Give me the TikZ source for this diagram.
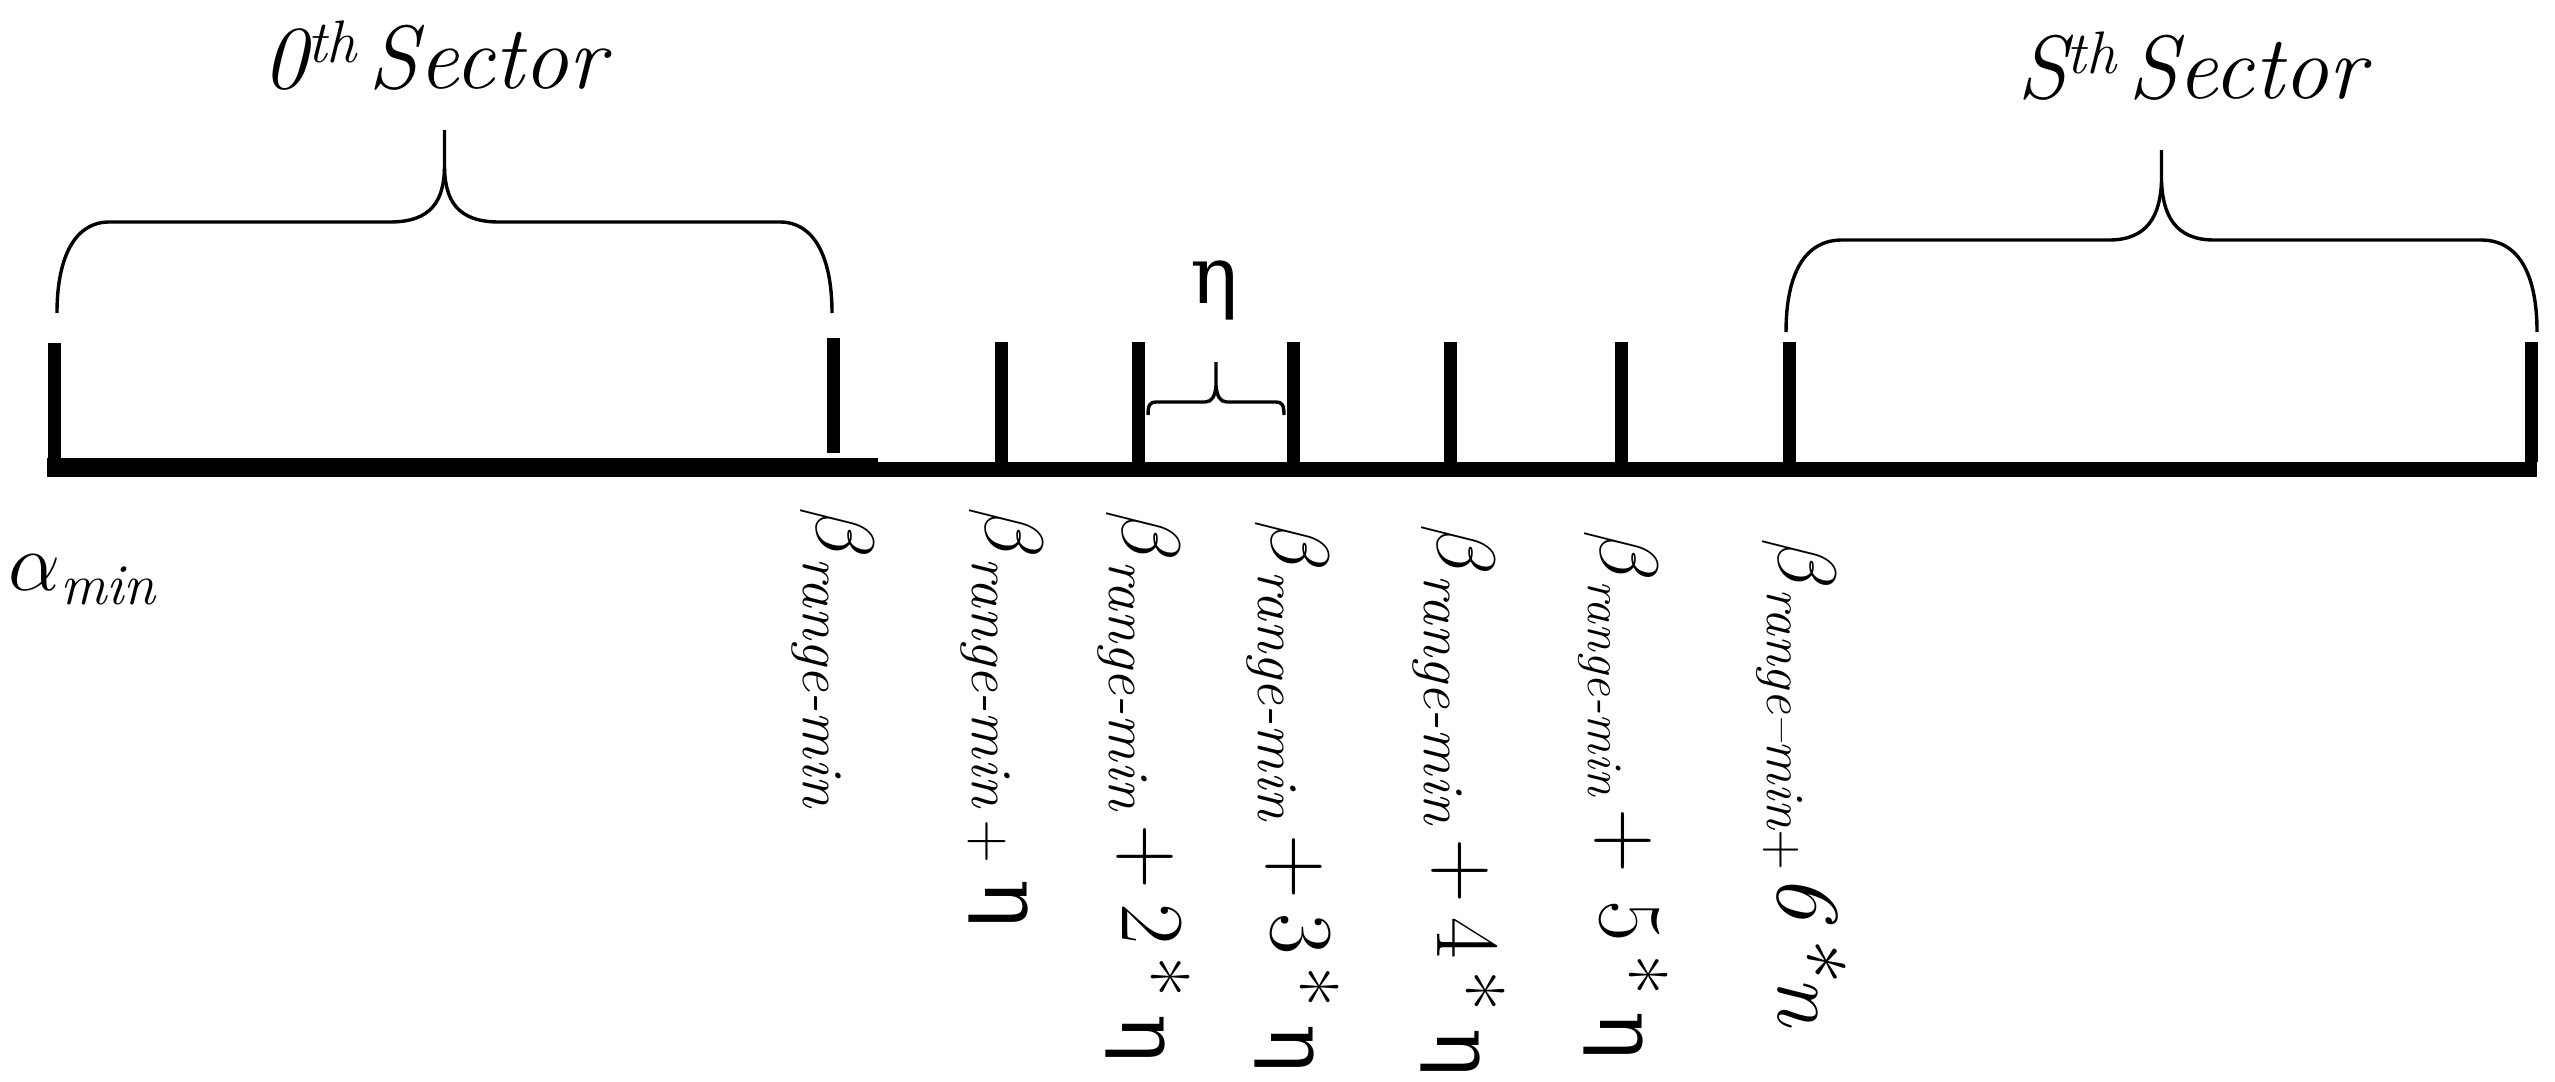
\documentclass[tikz,border=0pt]{standalone}
\usepackage{fontspec}
\newfontfamily\grk{DejaVu Serif}
\newcommand{\fbig}{\fontsize{22.5}{27}\selectfont}
\newcommand{\feta}{\fontsize{20}{24}\selectfont\grk}
\newcommand{\fsub}{\fontsize{14.5}{17}\selectfont}
\newcommand{\fsubb}{\fontsize{12.5}{15}\selectfont}
\newcommand{\fsubc}{\fontsize{13.5}{16}\selectfont}
\newcommand{\fsup}{\fontsize{15}{18}\selectfont}
\newcommand{\kstep}[1]{{\fbig +\hspace{3.5pt}#1\hspace{3pt}*\hspace{4pt}}{\feta η}}
\tikzset{
 tickline/.style={line width=3.25pt, line cap=butt},
 bracel/.style={line width=0.85pt},
 vlabel/.style={rotate=-90, anchor=base west, inner sep=0pt, outer sep=0pt},
 hlabel/.style={anchor=base west, inner sep=0pt, outer sep=0pt},
}
\begin{document}
\begin{tikzpicture}[x=0.25pt,y=-0.25pt]
\useasboundingbox (0,0) rectangle (2555,1081);
% axis
\draw[line width=4.75pt] (47,467.5) -- (878,467.5);
\draw[line width=3.9pt] (870,469.5) -- (2537,469.5);
% ticks
\draw[tickline] (54,343) -- (54,462);
\draw[tickline] (833,338) -- (833,453);
\foreach \t in {1001,1138,1293,1450,1621,1789,2531}
  \draw[tickline] (\t,342) -- (\t,462);
% 0th sector brace
\draw[bracel] (57,313) .. controls (57,255) and (76,222) .. (109,222) -- (390,222)
  .. controls (432,222) and (444,200) .. (444.5,167) -- (444.5,130);
\draw[bracel] (832,313) .. controls (832,255) and (813,222) .. (780,222) -- (499,222)
  .. controls (457,222) and (445,200) .. (444.5,167);
% S-th sector brace
\draw[bracel] (1786,332) .. controls (1786,273) and (1805,240) .. (1842,240) -- (2109,240)
  .. controls (2148,240) and (2160,215) .. (2161.5,182) -- (2161.5,150);
\draw[bracel] (2537,332) .. controls (2537,273) and (2518,240) .. (2481,240) -- (2214,240)
  .. controls (2175,240) and (2163,215) .. (2161.5,182);
% small eta brace
\draw[bracel] (1148,415) .. controls (1148,405) and (1150,402) .. (1156,402) -- (1205,402)
  .. controls (1212,402) and (1215,396) .. (1216,386) -- (1216,362);
\draw[bracel] (1284,415) .. controls (1284,405) and (1282,402) .. (1276,402) -- (1227,402)
  .. controls (1220,402) and (1217,396) .. (1216,386);
% top labels
\node[hlabel] (s0) at (262,88) {{\fbig\itshape 0}\raisebox{6.25pt}{\fsup\itshape th}\hspace{3pt}{\fbig\itshape Sector}};
\node[hlabel] (sS) at (2017,98) {{\fbig\itshape S}\raisebox{6.25pt}{\fsup\itshape th}\hspace{3pt}{\fbig\itshape Sector}};
\node[hlabel] (etatop) at (1190,303) {\feta η};
% bottom labels
\node[hlabel] (amin) at (8,590) {{\fbig$\alpha$}\raisebox{-3.5pt}{\fsub\itshape min}};
\node[vlabel] (b1) at (816,507) {{\fbig$\beta$}\raisebox{-3.25pt}{\fsub\itshape range-min}};
\node[vlabel] (b2) at (985,507) {{\fbig$\beta$}\raisebox{-3.25pt}{\fsub\itshape range-min\hspace{3pt}\upshape +}\hspace{4pt}{\feta η}};
\node[vlabel] (b3) at (1122,510) {{\fbig$\beta$}\raisebox{-3.25pt}{\fsub\itshape range-min}\hspace{3.5pt}\kstep{2}};
\node[vlabel] (b4) at (1271,520) {{\fbig$\beta$}\raisebox{-3.25pt}{\fsub\itshape range-min}\hspace{3.5pt}\kstep{3}};
\node[vlabel] (b5) at (1437,524) {{\fbig$\beta$}\raisebox{-3.25pt}{\fsub\itshape range-min}\hspace{3.5pt}\kstep{4}};
\node[vlabel] (b6) at (1600,530) {{\fbig$\beta$}\raisebox{-3pt}{\fsubb\itshape range-min}\hspace{3pt}{\fbig +\hspace{7pt}5\hspace{3pt}*\hspace{4pt}}{\feta η}};
\node[vlabel] (b7) at (1778,538) {{\fbig$\beta$}\raisebox{-2.75pt}{\fsubc\itshape range–min\upshape +}{\fbig\itshape\hspace{1pt}6\hspace{2pt}*\hspace{1pt}n}};
\end{tikzpicture}
\end{document}
